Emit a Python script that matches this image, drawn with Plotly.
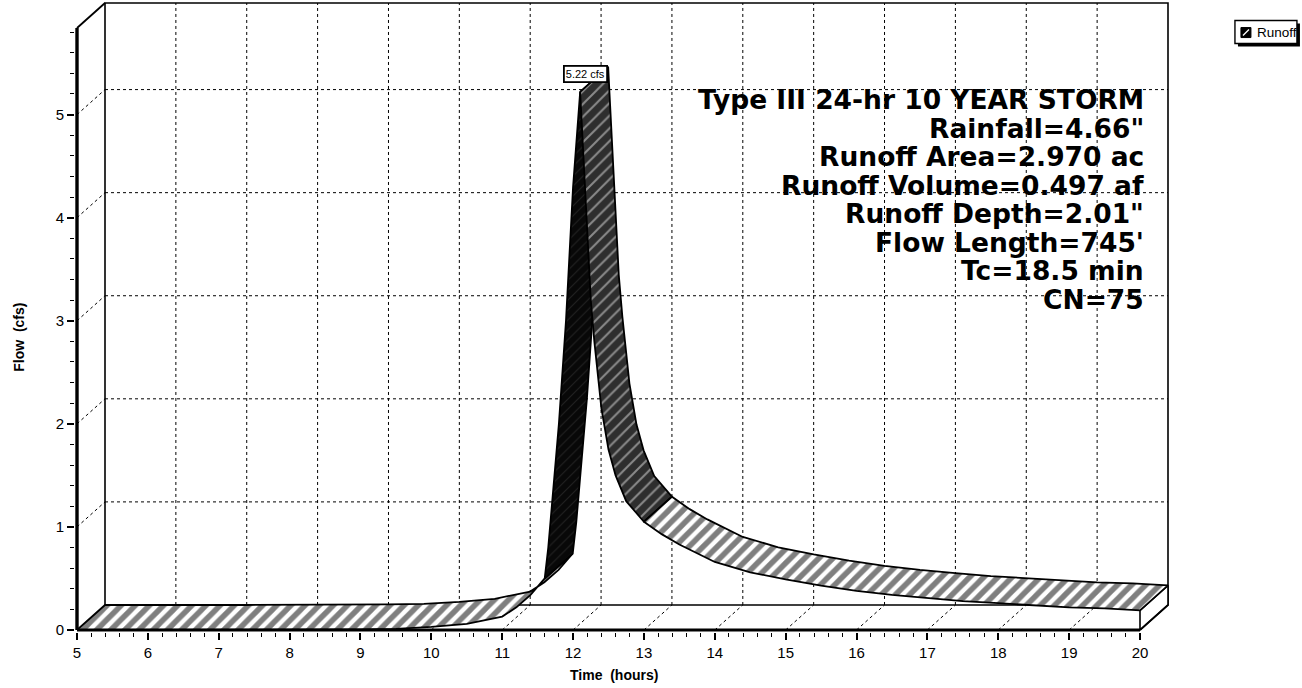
import plotly.graph_objects as go

# ---- Runoff hydrograph (front edge of the 3-D ribbon) ----
time_hr = [5.0, 6.0, 7.0, 8.0, 9.0, 9.5, 10.0, 10.5, 11.0, 11.2, 11.4, 11.6,
           11.65, 11.7, 11.8, 11.9, 12.0, 12.1, 12.2, 12.25, 12.3, 12.4, 12.5,
           12.6, 12.75, 13.0, 13.25, 13.5, 14.0, 14.5, 15.0, 15.5, 16.0,
           16.5, 17.0, 17.5, 18.0, 18.5, 19.0, 19.5, 20.0]
flow_cfs = [0.0, 0.0, 0.0, 0.0, 0.005, 0.01, 0.03, 0.06, 0.13, 0.22, 0.34, 0.50,
            0.80, 1.20, 2.00, 3.00, 4.30, 5.22, 3.90, 3.20, 2.80, 2.15, 1.75,
            1.50, 1.25, 1.05, 0.93, 0.83, 0.66, 0.56, 0.49, 0.43, 0.38,
            0.34, 0.31, 0.28, 0.26, 0.24, 0.22, 0.21, 0.19]

x_ticks = list(range(5, 21))
y_ticks = [0, 1, 2, 3, 4, 5]
x_minor = [round(5 + 0.2 * k, 1) for k in range(76) if (5 + 0.2 * k) % 1]
y_minor = [round(0.2 * k, 1) for k in range(30) if (0.2 * k) % 1]
y_top = 5.84

info_lines = [
    "Type III 24-hr 10 YEAR STORM",
    'Rainfall=4.66"',
    "Runoff Area=2.970 ac",
    "Runoff Volume=0.497 af",
    'Runoff Depth=2.01"',
    "Flow Length=745'",
    "Tc=18.5 min",
    "CN=75",
]
series_name = "Runoff"

# ---- oblique projection / layout geometry ----
W, H = 1302, 688
PX_HR, PX_CFS = 70.87, 103.0          # pixels per hour / per cfs
X0_PX, Y0_PX = 77, 630                # where (5 h, 0 cfs) lands
DX, DY = 28 / PX_HR, 25 / PX_CFS      # depth offset of the back wall
PAD = 2

x_range = [x_ticks[0] - PAD / PX_HR, x_ticks[-1] + DX + PAD / PX_HR]
y_range = [-PAD / PX_CFS, y_top + DY + PAD / PX_CFS]
m_l = X0_PX - PAD
m_r = W - (m_l + (x_range[1] - x_range[0]) * PX_HR)
m_b = H - (Y0_PX + PAD)
m_t = H - m_b - (y_range[1] - y_range[0]) * PX_CFS

t0, t1 = x_ticks[0], x_ticks[-1]

fig = go.Figure()


def add_line(xs, ys, width=1.0, dash=None, color="black"):
    fig.add_trace(go.Scatter(
        x=xs, y=ys, mode="lines", hoverinfo="skip", showlegend=False,
        line=dict(color=color, width=width, dash=dash)))


# back-wall grid
gx, gy = [], []
for q in y_ticks[1:]:
    gx += [t0 + DX, t1 + DX, None]
    gy += [q + DY, q + DY, None]
for t in x_ticks[1:-1]:
    gx += [t + DX, t + DX, None]
    gy += [DY, y_top + DY, None]
add_line(gx, gy, 1.0, "3px,3px")

# side-wall and floor depth lines
dx_, dy_ = [], []
for q in y_ticks[1:]:
    dx_ += [t0, t0 + DX, None]
    dy_ += [q, q + DY, None]
for t in x_ticks[1:-1]:
    dx_ += [t, t + DX, None]
    dy_ += [0, DY, None]
add_line(dx_, dy_, 1.0, "3px,3px")

# back wall frame
add_line([t0 + DX, t0 + DX, t1 + DX, t1 + DX, t0 + DX],
         [DY, y_top + DY, y_top + DY, DY, DY], 1.6)

# floor right edge and end cap of the ribbon
q_end = flow_cfs[-1]
fig.add_trace(go.Scatter(
    x=[t1, t1, t1 + DX, t1 + DX, t1], y=[0, q_end, q_end + DY, DY, 0],
    mode="lines", fill="toself", fillcolor="white", hoverinfo="skip",
    showlegend=False, line=dict(color="black", width=1.6)))

# ---- ribbon surface, split into runs of similar steepness ----
STYLES = {
    "rise": dict(shape="/", bgcolor="#080808", fgcolor="#3c3c3c", size=7, solidity=0.15),
    "fall": dict(shape="/", bgcolor="#2e2e2e", fgcolor="#e6e6e6", size=9, solidity=0.22),
    "flat": dict(shape="/", bgcolor="white", fgcolor="black", size=10, solidity=0.55),
}


def seg_kind(i):
    s = ((flow_cfs[i + 1] - flow_cfs[i]) * PX_CFS /
         ((time_hr[i + 1] - time_hr[i]) * PX_HR))
    if s > 1.6:
        return "rise"
    if s < -1.0:
        return "fall"
    return "flat"


runs = []
for i in range(len(time_hr) - 1):
    k = seg_kind(i)
    if runs and runs[-1][0] == k:
        runs[-1][2] = i + 1
    else:
        runs.append([k, i, i + 1])

for kind, a, b in runs:
    fx = time_hr[a:b + 1]
    fy = flow_cfs[a:b + 1]
    bx = [t + DX for t in fx][::-1]
    by = [q + DY for q in fy][::-1]
    fig.add_trace(go.Scatter(
        x=fx + bx + [fx[0]], y=fy + by + [fy[0]], mode="lines",
        fill="toself", fillcolor=STYLES[kind]["bgcolor"], fillpattern=STYLES[kind],
        line=dict(color="black", width=1.8), hoverinfo="skip", showlegend=False,
        name=series_name))

# front axes and top-left edge
add_line([t0, t0], [0, y_top], 3.4)
add_line([t0, t1], [0, 0], 2.8)
add_line([t0, t0 + DX], [y_top, y_top + DY], 1.8)
add_line([t1, t1 + DX], [0, DY], 1.8)

# ---- annotations ----
ann = []
ip = flow_cfs.index(max(flow_cfs))
ann.append(dict(
    x=time_hr[ip], y=flow_cfs[ip], xref="x", yref="y", showarrow=False,
    text=f"{flow_cfs[ip]:.2f} cfs", xshift=5, yshift=18,
    font=dict(family="Liberation Sans", size=11, color="black"),
    bgcolor="white", bordercolor="black", borderwidth=1.8, borderpad=1))


def px_to_paper_x(px):
    return (px - m_l) / (W - m_l - m_r)


def px_to_paper_y(py):
    return (H - m_b - py) / (H - m_b - m_t)


for i, line in enumerate(info_lines):
    ann.append(dict(
        x=px_to_paper_x(1146), y=px_to_paper_y(100 + 28.5 * i), xref="paper", yref="paper",
        xanchor="right", yanchor="middle", showarrow=False, text=f"<b>{line}</b>",
        font=dict(family="DejaVu Sans", size=26.5, color="black")))

ann.append(dict(x=px_to_paper_x(614), y=px_to_paper_y(675), xref="paper", yref="paper",
                xanchor="center", yanchor="middle",
                showarrow=False, text="<b>Time  (hours)</b>",
                font=dict(family="Liberation Sans", size=14, color="black")))
ann.append(dict(x=px_to_paper_x(19), y=px_to_paper_y(338), xref="paper", yref="paper",
                xanchor="center", yanchor="middle",
                showarrow=False, text="<b>Flow  (cfs)</b>", textangle=-90,
                font=dict(family="Liberation Sans", size=14, color="black")))

# legend box
ann.append(dict(x=px_to_paper_x(1255), y=px_to_paper_y(33), xref="paper", yref="paper",
                xanchor="left", yanchor="middle", showarrow=False, text=series_name,
                font=dict(family="Liberation Sans", size=13.5, color="black")))

shapes = [
    dict(type="rect", xref="paper", yref="paper",
         x0=px_to_paper_x(1238), x1=px_to_paper_x(1300),
         y0=px_to_paper_y(24), y1=px_to_paper_y(47),
         fillcolor="black", line=dict(width=0)),
    dict(type="rect", xref="paper", yref="paper",
         x0=px_to_paper_x(1235), x1=px_to_paper_x(1297),
         y0=px_to_paper_y(21), y1=px_to_paper_y(44),
         fillcolor="white", line=dict(color="black", width=1.4)),
    dict(type="rect", xref="paper", yref="paper",
         x0=px_to_paper_x(1241), x1=px_to_paper_x(1251),
         y0=px_to_paper_y(28), y1=px_to_paper_y(38),
         fillcolor="black", line=dict(color="black", width=1)),
    dict(type="line", xref="paper", yref="paper",
         x0=px_to_paper_x(1243), x1=px_to_paper_x(1249),
         y0=px_to_paper_y(36), y1=px_to_paper_y(30),
         line=dict(color="white", width=1.3)),
]

tick_font = dict(family="Liberation Sans", size=15, color="black")
fig.update_layout(
    width=W, height=H,
    margin=dict(l=m_l, r=m_r, t=m_t, b=m_b, pad=0),
    plot_bgcolor="white", paper_bgcolor="white",
    showlegend=False, annotations=ann, shapes=shapes,
    xaxis=dict(range=x_range, tickmode="array", tickvals=x_ticks, ticks="outside",
               ticklen=7, tickwidth=1.6, tickcolor="black", showgrid=False,
               zeroline=False, showline=False, tickfont=tick_font,
               minor=dict(tickmode="array", tickvals=x_minor, ticks="outside",
                          ticklen=4, tickwidth=1.2, tickcolor="black", showgrid=False)),
    yaxis=dict(range=y_range, tickmode="array", tickvals=y_ticks, ticks="outside",
               ticklen=7, tickwidth=1.6, tickcolor="black", showgrid=False,
               zeroline=False, showline=False, tickfont=tick_font,
               minor=dict(tickmode="array", tickvals=y_minor, ticks="outside",
                          ticklen=4, tickwidth=1.2, tickcolor="black", showgrid=False)),
)

fig.write_html("out.html")
